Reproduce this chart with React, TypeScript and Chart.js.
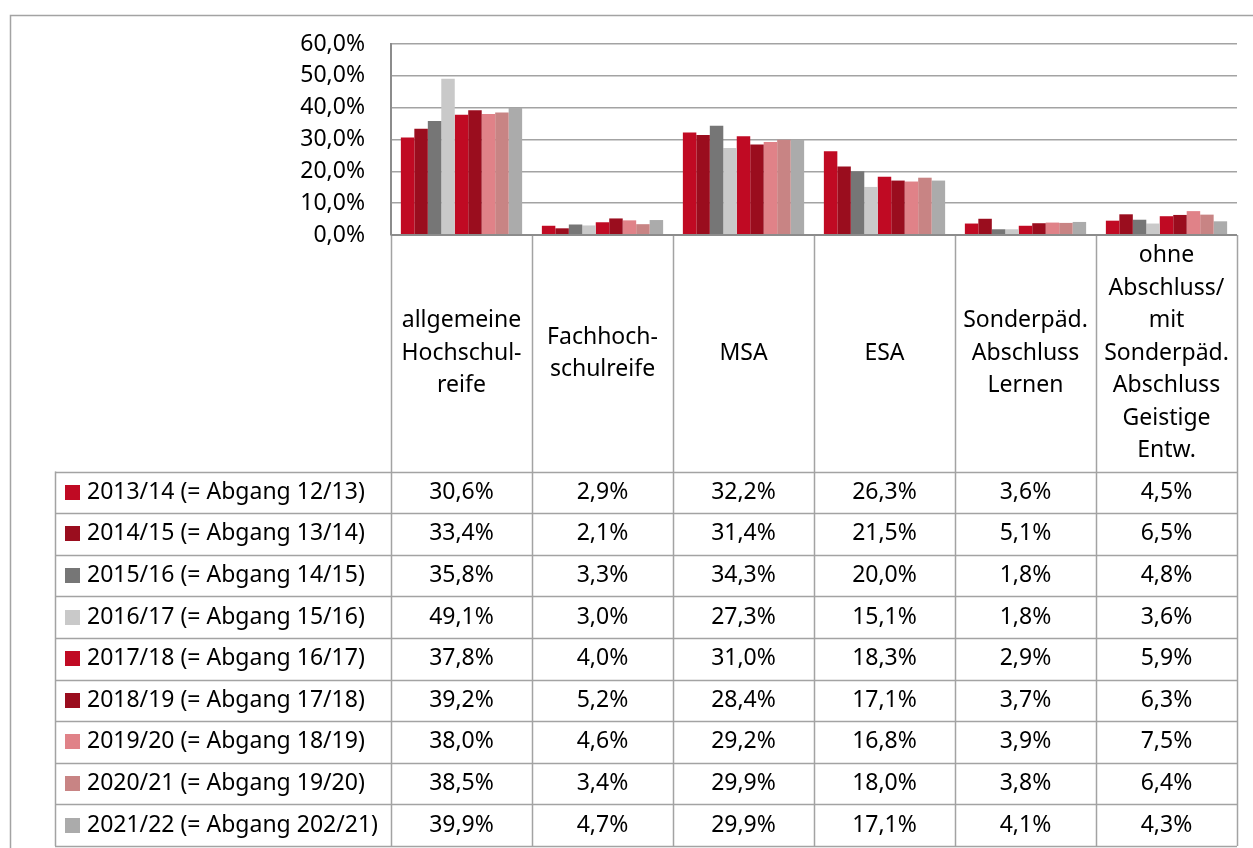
import React, { useEffect, useRef } from "react";
import { Chart, registerables } from "chart.js";

Chart.register(...registerables);

const categories: string[][] = [
  ["allgemeine", "Hochschul-", "reife"],
  ["Fachhoch-", "schulreife"],
  ["MSA"],
  ["ESA"],
  ["Sonderpäd.", "Abschluss", "Lernen"],
  ["ohne", "Abschluss/", "mit", "Sonderpäd.", "Abschluss", "Geistige", "Entw."],
];

const seriesLabels = [
  "2013/14 (= Abgang 12/13)",
  "2014/15 (= Abgang 13/14)",
  "2015/16 (= Abgang 14/15)",
  "2016/17 (= Abgang 15/16)",
  "2017/18 (= Abgang 16/17)",
  "2018/19 (= Abgang 17/18)",
  "2019/20 (= Abgang 18/19)",
  "2020/21 (= Abgang 19/20)",
  "2021/22 (= Abgang 202/21)",
];

const s2013 = [30.6, 2.9, 32.2, 26.3, 3.6, 4.5];
const s2014 = [33.4, 2.1, 31.4, 21.5, 5.1, 6.5];
const s2015 = [35.8, 3.3, 34.3, 20.0, 1.8, 4.8];
const s2016 = [49.1, 3.0, 27.3, 15.1, 1.8, 3.6];
const s2017 = [37.8, 4.0, 31.0, 18.3, 2.9, 5.9];
const s2018 = [39.2, 5.2, 28.4, 17.1, 3.7, 6.3];
const s2019 = [38.0, 4.6, 29.2, 16.8, 3.9, 7.5];
const s2020 = [38.5, 3.4, 29.9, 18.0, 3.8, 6.4];
const s2021 = [39.9, 4.7, 29.9, 17.1, 4.1, 4.3];

const seriesValues = [s2013, s2014, s2015, s2016, s2017, s2018, s2019, s2020, s2021];

const seriesColors = [
  "#C00A23",
  "#9A0D1E",
  "#767676",
  "#C9C9C9",
  "#C00A23",
  "#9A0D1E",
  "#E08288",
  "#C88484",
  "#ABABAB",
];

const yTicks = [0, 10, 20, 30, 40, 50, 60];

const FONT = '"Noto Sans", sans-serif';
const FS = 23;
const LINE = "#A3A3A3";

const fmt = (v: number) => v.toFixed(1).replace(".", ",") + "%";

const tablePlugin = {
  id: "dataTable",
  afterDraw(chart: any) {
    const ctx: CanvasRenderingContext2D = chart.ctx;
    const xs = chart.scales.x;
    const area = chart.chartArea;
    const n = categories.length;
    const colW = (area.right - area.left) / n;
    const top = area.bottom;
    const headerBottom = 471.5;
    const rowH = 41.6;
    const tableBottom = headerBottom + rowH * seriesLabels.length;
    const legendLeft = 55;

    ctx.save();
    // outer frame
    ctx.strokeStyle = LINE;
    ctx.lineWidth = 1.5;
    ctx.strokeRect(10.5, 15.5, 1260, 860);

    ctx.strokeStyle = LINE;
    ctx.lineWidth = 1.5;
    // vertical column lines
    for (let i = 0; i <= n; i++) {
      const x = Math.round(area.left + colW * i) + 0.5;
      ctx.beginPath();
      ctx.moveTo(x, top);
      ctx.lineTo(x, tableBottom);
      ctx.stroke();
    }
    // legend column left border
    ctx.beginPath();
    ctx.moveTo(legendLeft + 0.5, headerBottom);
    ctx.lineTo(legendLeft + 0.5, tableBottom);
    ctx.stroke();
    // horizontal row lines
    for (let r = 0; r <= seriesLabels.length; r++) {
      const y = Math.round(headerBottom + rowH * r) + 0.5;
      ctx.beginPath();
      ctx.moveTo(legendLeft, y);
      ctx.lineTo(area.right, y);
      ctx.stroke();
    }
    // top line of table (axis)
    ctx.strokeStyle = "#8C8C8C";
    ctx.lineWidth = 2;
    ctx.beginPath();
    ctx.moveTo(area.left, top);
    ctx.lineTo(area.right, top);
    ctx.stroke();

    // header text
    ctx.fillStyle = "#000";
    ctx.font = `${FS}px ${FONT}`;
    ctx.textAlign = "center";
    ctx.textBaseline = "middle";
    const lh = 32.5;
    const headerMid = (top + headerBottom) / 2;
    categories.forEach((lines, i) => {
      const cx = xs.getPixelForValue(i);
      const start = headerMid - ((lines.length - 1) * lh) / 2;
      lines.forEach((t, k) => ctx.fillText(t, cx, start + k * lh));
    });

    // rows
    seriesLabels.forEach((label, r) => {
      const cy = headerBottom + rowH * r + rowH / 2;
      ctx.fillStyle = seriesColors[r];
      ctx.fillRect(65, Math.round(cy - 7.5), 15, 15);
      ctx.fillStyle = "#000";
      ctx.textAlign = "left";
      ctx.fillText(label, 87, cy);
      ctx.textAlign = "center";
      seriesValues[r].forEach((v, i) => {
        ctx.fillText(fmt(v), xs.getPixelForValue(i), cy);
      });
    });
    ctx.restore();
  },
};

export default function App() {
  const ref = useRef<HTMLCanvasElement>(null);
  useEffect(() => {
    if (!ref.current) return;
    const chart = new Chart(ref.current, {
      type: "bar",
      data: {
        labels: categories.map((c) => c.join(" ")),
        datasets: seriesLabels.map((label, i) => ({
          label,
          data: seriesValues[i],
          backgroundColor: seriesColors[i],
          borderWidth: 0,
          categoryPercentage: 0.86,
          barPercentage: 1,
        })),
      },
      options: {
        animation: false,
        responsive: false,
        maintainAspectRatio: false,
        layout: { padding: { left: 0, top: 44, right: 16, bottom: 848 - 235 } },
        plugins: { legend: { display: false }, tooltip: { enabled: false } },
        scales: {
          x: {
            display: true,
            grid: { display: false, drawTicks: false },
            border: { display: false },
            ticks: { display: false },
            afterFit: (s: any) => {
              s.height = 0;
            },
          },
          y: {
            min: 0,
            max: 60,
            afterFit: (s: any) => {
              s.width = 391;
            },
            afterBuildTicks: (s: any) => {
              s.ticks = yTicks.map((v) => ({ value: v }));
            },
            grid: { color: LINE, lineWidth: 1.5, drawTicks: false },
            border: { display: true, color: "#8C8C8C", width: 2 },
            ticks: {
              padding: 26,
              color: "#000",
              font: { family: FONT, size: FS },
              callback: (v: any) => fmt(Number(v)),
            },
          },
        },
      },
      plugins: [tablePlugin],
    });
    return () => chart.destroy();
  }, []);
  return (
    <div style={{ position: "fixed", left: 0, top: 0, width: 1253, height: 848, background: "#fff" }}>
      <canvas ref={ref} width={1253} height={848} style={{ width: 1253, height: 848 }} />
    </div>
  );
}
